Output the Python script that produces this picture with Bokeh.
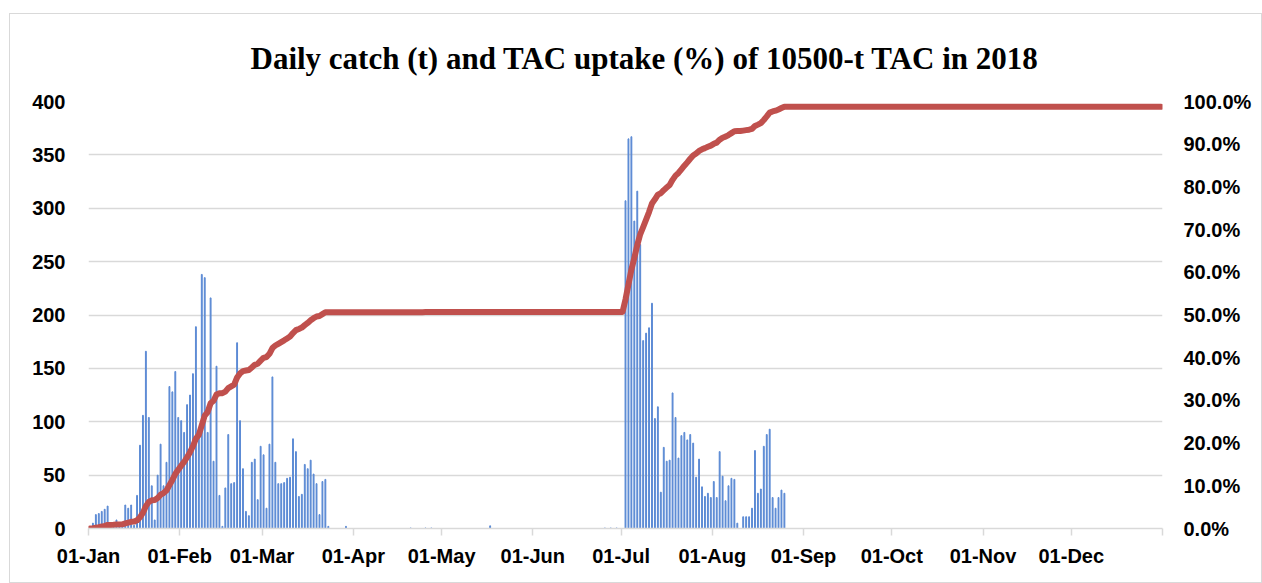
import numpy as np
import pandas as pd
from bokeh.plotting import figure
from bokeh.models import Range1d, LinearAxis, FixedTicker, NumeralTickFormatter, ColumnDataSource
from bokeh.embed import file_html
from bokeh.resources import INLINE

# ---------------- data ----------------
year = 2018
tac_t = 10500
title_text = "Daily catch (t) and TAC uptake (%) of 10500-t TAC in 2018"

month_labels = ["01-Jan", "01-Feb", "01-Mar", "01-Apr", "01-May", "01-Jun",
                "01-Jul", "01-Aug", "01-Sep", "01-Oct", "01-Nov", "01-Dec"]

# first fishing period, daily catch (t) from 02-Jan
season1_start = "2018-01-02"
season1_catch = [5, 13, 14, 16, 18, 21, 2, 2, 8, 2,
                 2, 22, 19, 22, 3, 31, 78, 106, 166, 104,
                 40, 8, 50, 79, 40, 62, 133, 128, 147, 104,
                 101, 90, 116, 125, 145, 189, 90, 238, 235, 90,
                 216, 63, 152, 31, 2, 38, 88, 42, 43, 174,
                 101, 56, 16, 12, 62, 65, 27, 77, 69, 19,
                 79, 142, 62, 42, 42, 43, 47, 48, 84, 72,
                 30, 32, 60, 56, 64, 51, 42, 13, 44, 46,
                 2]

# scattered small landings between the two periods
minor_dates = ["2018-03-29", "2018-04-20", "2018-04-25", "2018-04-27",
               "2018-05-17", "2018-06-25", "2018-06-27", "2018-06-29"]
minor_catch = [2, 0.5, 0.5, 0.5, 2.5, 0.5, 0.5, 0.5]

# second fishing period, daily catch (t) from 02-Jul
season2_start = "2018-07-02"
season2_catch = [307, 365, 367, 288, 316, 266, 176, 183, 188, 211,
                 103, 114, 34, 76, 63, 64, 127, 104, 66, 87,
                 90, 83, 88, 80, 48, 65, 39, 30, 33, 29,
                 44, 29, 72, 49, 26, 40, 47, 46, 5, 0,
                 11, 11, 11, 19, 73, 33, 37, 77, 88, 93,
                 29, 19, 29, 36, 33]

# ---------------- build table ----------------
dates = pd.date_range(f"{year}-01-01", f"{year}-12-31", freq="D")
catch = pd.Series(0.0, index=dates)
s1 = pd.date_range(season1_start, periods=len(season1_catch), freq="D")
catch.loc[s1] = season1_catch
s2 = pd.date_range(season2_start, periods=len(season2_catch), freq="D")
catch.loc[s2] = season2_catch
catch.loc[pd.to_datetime(minor_dates)] = minor_catch

day_pos = (dates.dayofyear - 1).to_numpy() + 0.5
uptake = np.minimum(np.cumsum(catch.to_numpy()) / tac_t, 1.0)

src = ColumnDataSource(dict(x=day_pos, catch=catch.to_numpy(), uptake=uptake))

month_starts = [int(d.dayofyear - 1) for d in pd.date_range(f"{year}-01-01", periods=12, freq="MS")]

# ---------------- figure ----------------
p = figure(width=1253, height=570, output_backend="svg", toolbar_location=None,
           x_range=Range1d(0, 365), y_range=Range1d(0, 400),
           min_border_left=78, min_border_right=101, min_border_top=87, min_border_bottom=56,
           title=title_text)
p.extra_y_ranges = {"pct": Range1d(0, 1)}
p.outline_line_color = None
p.background_fill_color = "white"
p.border_fill_color = "white"

p.title.text_font = "Liberation Serif"
p.title.text_font_size = "31px"
p.title.text_font_style = "bold"
p.title.text_color = "#000000"
p.title.align = "left"
p.title.offset = 162
p.title.vertical_align = "top"
p.title.standoff = 47

p.vbar(x="x", top="catch", width=0.3, source=src, color="#5b8ad4")
p.line(x="x", y="uptake", source=src, y_range_name="pct",
       line_color="#C0504D", line_width=6, line_cap="round", line_join="round")

lab_font = "Liberation Sans"
lab_size = "20px"

# x axis
xa = p.xaxis[0]
xa.ticker = FixedTicker(ticks=month_starts + [365])
overrides = {m: lab for m, lab in zip(month_starts, month_labels)}
overrides[365] = ""
xa.major_label_overrides = overrides
xa.axis_line_color = "#d9d9d9"
xa.axis_line_width = 1.5
xa.major_tick_line_color = "#d9d9d9"
xa.major_tick_line_width = 1.5
xa.major_tick_out = 7
xa.major_tick_in = 0
xa.minor_tick_line_color = None
xa.major_label_standoff = 9
xa.major_label_text_font = lab_font
xa.major_label_text_font_size = lab_size
xa.major_label_text_font_style = "bold"
xa.major_label_text_color = "#000000"

# left axis
ya = p.yaxis[0]
ya.ticker = FixedTicker(ticks=list(range(0, 401, 50)))
ya.axis_line_color = None
ya.major_tick_line_color = None
ya.minor_tick_line_color = None
ya.major_tick_out = 0
ya.major_tick_in = 0
ya.major_label_standoff = 23
ya.major_label_text_font = lab_font
ya.major_label_text_font_size = lab_size
ya.major_label_text_font_style = "bold"
ya.major_label_text_color = "#000000"

# right axis
ra = LinearAxis(y_range_name="pct",
                ticker=FixedTicker(ticks=[i / 10 for i in range(11)]),
                formatter=NumeralTickFormatter(format="0.0%"))
ra.axis_line_color = None
ra.major_tick_line_color = None
ra.minor_tick_line_color = None
ra.major_tick_out = 0
ra.major_tick_in = 0
ra.major_label_standoff = 21
ra.major_label_text_font = lab_font
ra.major_label_text_font_size = lab_size
ra.major_label_text_font_style = "bold"
ra.major_label_text_color = "#000000"
p.add_layout(ra, "right")

p.xgrid.visible = False
p.ygrid.ticker = FixedTicker(ticks=list(range(50, 401, 50)))
p.ygrid.grid_line_color = "#d9d9d9"
p.ygrid.grid_line_width = 1.5

p.styles = {"border": "1px solid #d9d9d9", "margin-left": "9px", "margin-top": "13px"}

open("out.html", "w").write(file_html(p, INLINE))
